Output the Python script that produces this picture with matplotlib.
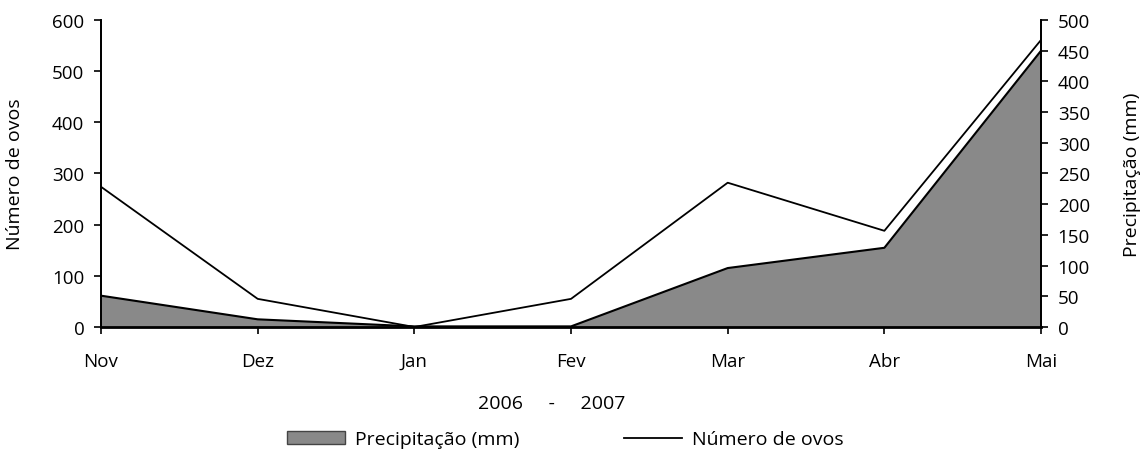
from matplotlib import pyplot
from matplotlib.patches import Patch
from matplotlib.lines import Line2D

pyplot.rcParams['font.family'] = ['Open Sans', 'DejaVu Sans']

months = ['Nov', 'Dez', 'Jan', 'Fev', 'Mar', 'Abr', 'Mai']
ovos = [274, 55, 0, 55, 282, 188, 561]
precip = [51, 12.5, 1, 1, 96, 129, 450]

fs = 14
tfs = 13.5

fig = pyplot.figure(figsize=(11.44, 4.56), dpi=100)
ax = fig.add_axes([0.0883, 0.2807, 0.91 - 0.0883, 0.954 - 0.2807])
ax2 = ax.twinx()

x = list(range(len(months)))

# area on the right scale, line on top on the left scale
ax2.fill_between(x, precip, 0, facecolor='#898989', edgecolor='none')
ax2.plot(x, precip, color='black', lw=1.5)
ax2.set_ylim(0, 500)
ax2.set_yticks(range(0, 501, 50))

ax.plot(x, ovos, color='black', lw=1.3)
ax.set_ylim(0, 600)
ax.set_yticks(range(0, 601, 100))
ax.set_xlim(0, 6)
ax.set_xticks(x)
ax.set_xticklabels(months)
ax.set_zorder(ax2.get_zorder() + 1)
ax.patch.set_visible(False)

for a in (ax, ax2):
    a.spines['top'].set_visible(False)
    a.spines['left'].set_linewidth(1.3)
    a.spines['right'].set_linewidth(1.3)
    a.tick_params(direction='out', length=5, width=1.2, labelsize=tfs, pad=7)
ax.spines['bottom'].set_linewidth(2)
ax.tick_params(axis='x', pad=13)

ax.set_ylabel('Número de ovos', fontsize=fs, labelpad=20)
ax2.set_ylabel('Precipitação (mm)', fontsize=fs, labelpad=24)

fig.text(0.482, 0.113, '2006     -     2007', ha='center', va='center', fontsize=fs)

handles = [
    Patch(facecolor='#898989', edgecolor='#444444', lw=1),
    Line2D([0], [0], color='black', lw=1.3),
]
fig.legend(handles, ['Precipitação (mm)', 'Número de ovos'], loc='center',
           bbox_to_anchor=(0.494, 0.034), ncol=2, frameon=False, fontsize=fs,
           handlelength=3.0, handleheight=0.6, handletextpad=0.5, columnspacing=5.4,
           borderpad=0)

pyplot.savefig("out.png", dpi=100)
